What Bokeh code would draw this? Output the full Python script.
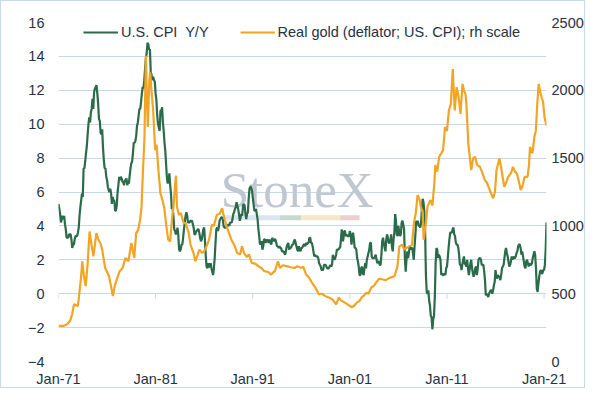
import numpy as np
from bokeh.plotting import figure
from bokeh.models import (Range1d, LinearAxis, FixedTicker, Legend, LegendItem,
                          Label, BoxAnnotation)
from bokeh.embed import file_html
from bokeh.resources import INLINE

# ---------------- data ----------------
start_year = 1971  # monthly CPI data from Jan-71
cpi_yoy = [
    5.3, 5.0, 4.7, 4.2, 4.4, 4.6, 4.4, 4.6, 4.1, 3.8, 3.3, 3.3,        # 1971
    3.3, 3.5, 3.5, 3.5, 3.2, 2.7, 2.9, 2.9, 3.2, 3.4, 3.4, 3.4,        # 1972
    3.6, 3.9, 4.6, 5.1, 5.5, 5.9, 5.7, 7.4, 7.4, 7.8, 8.3, 8.7,        # 1973
    9.4, 10.0, 10.4, 10.1, 10.7, 10.9, 11.5, 10.9, 11.9, 12.1, 12.2, 12.3,  # 1974
    11.8, 11.2, 10.3, 10.2, 9.5, 9.4, 9.7, 8.6, 7.9, 7.4, 7.4, 6.9,    # 1975
    6.7, 6.3, 6.1, 6.0, 6.2, 5.9, 5.3, 5.7, 5.5, 5.5, 4.9, 4.9,        # 1976
    5.2, 6.0, 6.4, 6.9, 6.7, 6.9, 6.8, 6.6, 6.6, 6.4, 6.7, 6.7,        # 1977
    6.8, 6.4, 6.6, 6.5, 7.0, 7.4, 7.7, 7.8, 8.3, 8.9, 8.9, 9.0,        # 1978
    9.3, 9.9, 10.1, 10.5, 10.9, 10.9, 11.3, 11.8, 12.2, 12.1, 12.6, 13.3,  # 1979
    13.9, 14.2, 14.8, 14.7, 14.4, 14.4, 13.1, 12.9, 12.6, 12.8, 12.6, 12.5,  # 1980
    11.8, 11.4, 10.5, 10.0, 9.8, 9.6, 10.8, 10.8, 11.0, 10.1, 9.6, 8.9,  # 1981
    8.4, 7.6, 6.8, 6.5, 6.7, 7.1, 6.4, 5.9, 5.0, 5.1, 4.6, 3.8,        # 1982
    3.7, 3.5, 3.6, 3.9, 3.5, 2.6, 2.5, 2.6, 2.9, 2.9, 3.3, 3.8,        # 1983
    4.2, 4.6, 4.8, 4.6, 4.2, 4.2, 4.2, 4.3, 4.3, 4.3, 4.1, 3.9,        # 1984
    3.5, 3.5, 3.7, 3.7, 3.8, 3.8, 3.6, 3.3, 3.1, 3.2, 3.5, 3.8,        # 1985
    3.9, 3.1, 2.2, 1.6, 1.5, 1.8, 1.6, 1.6, 1.8, 1.5, 1.3, 1.1,        # 1986
    1.5, 2.1, 3.0, 3.8, 3.9, 3.7, 3.9, 4.3, 4.4, 4.5, 4.5, 4.4,        # 1987
    4.0, 3.9, 3.9, 3.9, 3.9, 4.0, 4.1, 4.0, 4.2, 4.2, 4.2, 4.4,        # 1988
    4.7, 4.8, 5.0, 5.1, 5.4, 5.2, 5.0, 4.7, 4.3, 4.5, 4.7, 4.6,        # 1989
    5.2, 5.3, 5.2, 4.7, 4.4, 4.7, 4.8, 5.6, 6.2, 6.3, 6.3, 6.1,        # 1990
    5.7, 5.3, 4.9, 4.9, 5.0, 4.7, 4.4, 3.8, 3.4, 2.9, 3.0, 3.1,        # 1991
    2.6, 2.8, 3.2, 3.2, 3.0, 3.1, 3.2, 3.1, 3.0, 3.2, 3.0, 2.9,        # 1992
    3.3, 3.2, 3.1, 3.2, 3.2, 3.0, 2.8, 2.8, 2.7, 2.8, 2.7, 2.7,        # 1993
    2.5, 2.5, 2.5, 2.4, 2.3, 2.5, 2.8, 2.9, 3.0, 2.6, 2.7, 2.7,        # 1994
    2.8, 2.9, 2.9, 3.1, 3.2, 3.0, 2.8, 2.6, 2.5, 2.8, 2.6, 2.5,        # 1995
    2.7, 2.7, 2.8, 2.9, 2.9, 2.8, 3.0, 2.9, 3.0, 3.0, 3.3, 3.3,        # 1996
    3.0, 3.0, 2.8, 2.5, 2.2, 2.3, 2.2, 2.2, 2.2, 2.1, 1.8, 1.7,        # 1997
    1.6, 1.4, 1.4, 1.4, 1.7, 1.7, 1.7, 1.6, 1.5, 1.5, 1.5, 1.6,        # 1998
    1.7, 1.6, 1.7, 2.3, 2.1, 2.0, 2.1, 2.3, 2.6, 2.6, 2.6, 2.7,        # 1999
    2.7, 3.2, 3.8, 3.1, 3.2, 3.7, 3.7, 3.4, 3.5, 3.4, 3.4, 3.4,        # 2000
    3.7, 3.5, 2.9, 3.3, 3.6, 3.2, 2.7, 2.7, 2.6, 2.1, 1.9, 1.6,        # 2001
    1.1, 1.1, 1.5, 1.6, 1.2, 1.1, 1.5, 1.8, 1.5, 2.0, 2.2, 2.4,        # 2002
    2.6, 3.0, 3.0, 2.2, 2.1, 2.1, 2.1, 2.2, 2.3, 2.0, 1.8, 1.9,        # 2003
    1.9, 1.7, 1.7, 2.3, 3.1, 3.3, 3.0, 2.7, 2.5, 3.2, 3.5, 3.3,        # 2004
    3.0, 3.0, 3.1, 3.5, 2.8, 2.5, 3.2, 3.6, 4.7, 4.3, 3.5, 3.4,        # 2005
    4.0, 3.6, 3.4, 3.5, 4.2, 4.3, 4.1, 3.8, 2.1, 1.3, 2.0, 2.5,        # 2006
    2.1, 2.4, 2.8, 2.6, 2.7, 2.7, 2.4, 2.0, 2.8, 3.5, 4.3, 4.1,        # 2007
    4.3, 4.0, 4.0, 3.9, 4.2, 5.0, 5.6, 5.4, 4.9, 3.7, 1.1, 0.1,        # 2008
    0.0, 0.2, -0.4, -0.7, -1.3, -1.4, -2.1, -1.5, -1.3, -0.2, 1.8, 2.7,  # 2009
    2.6, 2.1, 2.3, 2.2, 2.0, 1.1, 1.2, 1.1, 1.1, 1.2, 1.1, 1.5,        # 2010
    1.6, 2.1, 2.7, 3.2, 3.6, 3.6, 3.6, 3.8, 3.9, 3.5, 3.4, 3.0,        # 2011
    2.9, 2.9, 2.7, 2.3, 1.7, 1.7, 1.4, 1.7, 2.0, 2.2, 1.8, 1.7,        # 2012
    1.6, 2.0, 1.5, 1.1, 1.4, 1.8, 2.0, 1.5, 1.2, 1.0, 1.2, 1.5,        # 2013
    1.6, 1.1, 1.5, 2.0, 2.1, 2.1, 2.0, 1.7, 1.7, 1.7, 1.3, 0.8,        # 2014
    -0.1, 0.0, -0.1, -0.2, 0.0, 0.1, 0.2, 0.2, 0.0, 0.2, 0.5, 0.7,     # 2015
    1.4, 1.0, 0.9, 1.1, 1.0, 1.0, 0.8, 1.1, 1.5, 1.6, 1.7, 2.1,        # 2016
    2.5, 2.7, 2.4, 2.2, 1.9, 1.6, 1.7, 1.9, 2.2, 2.0, 2.2, 2.1,        # 2017
    2.1, 2.2, 2.4, 2.5, 2.8, 2.9, 2.9, 2.7, 2.3, 2.5, 2.2, 1.9,        # 2018
    1.6, 1.5, 1.9, 2.0, 1.8, 1.6, 1.8, 1.7, 1.7, 1.8, 2.1, 2.3,        # 2019
    2.5, 2.3, 1.5, 0.3, 0.1, 0.6, 1.0, 1.3, 1.4, 1.2, 1.2, 1.4,        # 2020
    1.4, 1.7, 2.6, 4.2,                                                # 2021
]

gold_year = [
    1971.0, 1971.5, 1971.9, 1972.2, 1972.4, 1972.6, 1973.0, 1973.3, 1973.45, 1973.6,
    1973.8, 1974.0, 1974.2, 1974.4, 1974.6, 1974.9, 1975.1, 1975.3, 1975.5, 1975.8,
    1976.0, 1976.2, 1976.45, 1976.6, 1976.8, 1977.0, 1977.3, 1977.6, 1977.9, 1978.2,
    1978.5, 1978.8, 1979.0, 1979.2, 1979.4, 1979.55, 1979.7, 1979.85, 1980.0, 1980.1,
    1980.2, 1980.35, 1980.45, 1980.6, 1980.75, 1980.95, 1981.1, 1981.3, 1981.5, 1981.7,
    1981.9, 1982.1, 1982.3, 1982.5, 1982.7, 1982.85, 1983.0, 1983.1, 1983.2, 1983.4,
    1983.6, 1983.9, 1984.1, 1984.4, 1984.6, 1984.9, 1985.1, 1985.3, 1985.5, 1985.8,
    1986.0, 1986.3, 1986.5, 1986.8, 1987.0, 1987.3, 1987.6, 1987.85, 1988.0, 1988.3,
    1988.6, 1988.8, 1989.1, 1989.4, 1989.7, 1989.9, 1990.1, 1990.4, 1990.6, 1990.9,
    1991.3, 1991.6, 1991.9, 1992.2, 1992.6, 1992.9, 1993.3, 1993.6, 1993.8, 1994.1,
    1994.6, 1994.9, 1995.3, 1995.6, 1996.0, 1996.2, 1996.5, 1996.8, 1997.1, 1997.5,
    1997.8, 1998.1, 1998.5, 1998.9, 1999.2, 1999.6, 1999.85, 2000.1, 2000.5, 2000.8,
    2001.2, 2001.5, 2001.7, 2002.0, 2002.2, 2002.5, 2002.7, 2002.9, 2003.2, 2003.5,
    2003.7, 2004.0, 2004.4, 2004.7, 2005.1, 2005.6, 2005.9, 2006.1, 2006.4, 2006.6,
    2006.9, 2007.1, 2007.4, 2007.6, 2007.8, 2007.97, 2008.2, 2008.3, 2008.5, 2008.6,
    2008.8, 2009.0, 2009.3, 2009.5, 2009.7, 2009.8, 2010.0, 2010.2, 2010.6, 2010.8,
    2011.0, 2011.2, 2011.4, 2011.6, 2011.7, 2011.8, 2012.0, 2012.2, 2012.4, 2012.6,
    2012.75, 2012.9, 2013.0, 2013.2, 2013.5, 2013.7, 2013.9, 2014.1, 2014.4, 2014.6,
    2014.9, 2015.1, 2015.4, 2015.75, 2015.95, 2016.1, 2016.4, 2016.6, 2016.9, 2017.1,
    2017.3, 2017.6, 2017.8, 2018.0, 2018.2, 2018.4, 2018.6, 2018.8, 2019.0, 2019.3,
    2019.45, 2019.55, 2019.8, 2020.0, 2020.15, 2020.3, 2020.45, 2020.6, 2020.75, 2020.9,
    2021.05, 2021.25,
]
gold_real = [
    262, 262, 275, 300, 348, 422, 409, 605, 739, 640,
    556, 720, 959, 860, 776, 947, 900, 874, 825, 690,
    660, 629, 540, 482, 560, 605, 666, 690, 764, 739,
    874, 764, 947, 971, 1045, 1142, 1411, 1650, 2254, 1950,
    1729, 2071, 2132, 1973, 1851, 1558, 1600, 1400, 1240, 1191,
    1130, 1000, 898, 886, 1057, 1150, 1300, 1370, 1142, 1081,
    1094, 1020, 1020, 950, 861, 800, 739, 780, 825, 800,
    812, 860, 898, 1008, 1000, 1081, 1090, 1130, 1080, 996,
    940, 898, 860, 800, 790, 849, 800, 770, 790, 727,
    720, 702, 690, 666, 660, 641, 670, 739, 690, 710,
    702, 695, 690, 702, 690, 700, 641, 620, 581, 540,
    495, 500, 482, 470, 458, 422, 471, 450, 434, 420,
    400, 415, 434, 446, 471, 490, 507, 500, 544, 560,
    581, 610, 605, 600, 617, 629, 700, 849, 861, 825,
    840, 849, 860, 1020, 1100, 1228, 1190, 1142, 1100, 898,
    1000, 1142, 1191, 1150, 1314, 1448, 1400, 1509, 1558, 1729,
    1700, 1851, 1900, 2157, 2000, 1851, 2022, 1950, 1827, 2047,
    2000, 1973, 1900, 1607, 1411, 1500, 1509, 1450, 1435, 1400,
    1338, 1320, 1265, 1204, 1250, 1411, 1497, 1420, 1289, 1320,
    1362, 1390, 1435, 1400, 1387, 1330, 1265, 1300, 1362, 1362,
    1450, 1582, 1534, 1655, 1700, 1900, 2047, 1990, 1949, 1912,
    1800, 1741,
]

x_ticks = [1971, 1981, 1991, 2001, 2011, 2021]
x_tick_labels = ["Jan-71", "Jan-81", "Jan-91", "Jan-01", "Jan-11", "Jan-21"]
left_ticks = [-4, -2, 0, 2, 4, 6, 8, 10, 12, 14, 16]
right_ticks = [0, 500, 1000, 1500, 2000, 2500]

cpi_label = "U.S. CPI  Y/Y"
gold_label = "Real gold (deflator; US. CPI); rh scale"

# ---------------- styling ----------------
GREEN = "#2A6C49"
ORANGE = "#F2A424"
TEXT = "#243243"
GRID = "#C9D8E7"
FONT = "Liberation Sans"
FSIZE = "14.5px"

cpi_x = start_year + np.arange(len(cpi_yoy)) / 12.0

p = figure(width=585, height=388,
           x_range=Range1d(1971.0, 2021.25), y_range=Range1d(-4, 16),
           output_backend="svg", toolbar_location=None,
           min_border_left=57, min_border_right=37,
           min_border_top=21, min_border_bottom=26,
           background_fill_color="white", border_fill_color="white")
p.outline_line_color = None
p.styles = {"border": "1px solid #C6DAEA", "box-sizing": "border-box"}

p.extra_y_ranges = {"gold": Range1d(0, 2500)}

# grid
p.xgrid.visible = False
p.ygrid.ticker = FixedTicker(ticks=left_ticks)
p.ygrid.grid_line_color = GRID
p.ygrid.grid_line_width = 1

# axes
def style_axis(ax):
    ax.axis_line_color = None
    ax.major_tick_line_color = None
    ax.minor_tick_line_color = None
    ax.major_tick_out = 0
    ax.major_tick_in = 0
    ax.minor_tick_out = 0
    ax.minor_tick_in = 0
    ax.major_label_text_font = FONT
    ax.major_label_text_font_size = FSIZE
    ax.major_label_text_color = TEXT

xa = p.xaxis[0]
xa.ticker = FixedTicker(ticks=x_ticks)
xa.major_label_overrides = {t: l for t, l in zip(x_ticks, x_tick_labels)}
xa.major_label_standoff = 9
style_axis(xa)

ya = p.yaxis[0]
ya.ticker = FixedTicker(ticks=left_ticks)
ya.major_label_standoff = 14
style_axis(ya)

ra = LinearAxis(y_range_name="gold", ticker=FixedTicker(ticks=right_ticks))
ra.major_label_standoff = 5
style_axis(ra)
p.add_layout(ra, "right")

# watermark
wm = Label(x=1987.7, y=6.1, text="StoneX", text_font="Liberation Serif",
           text_font_size="51px", text_color="#BFC8D2", text_baseline="alphabetic",
           text_align="left", level="underlay")
p.add_layout(wm)
bar_edges = [1987.8, 1993.8, 1996.0, 2000.0, 2002.0]
bar_colors = ["#DCE5EE", "#C9D8CE", "#F5E7C8", "#EDCDD0"]
for i, c in enumerate(bar_colors):
    p.add_layout(BoxAnnotation(left=bar_edges[i], right=bar_edges[i + 1],
                               bottom=4.34, top=4.63, fill_color=c, fill_alpha=1,
                               line_color=None, level="underlay"))

# x-axis tick marks on the zero line
p.segment(x0=x_ticks, y0=[0] * len(x_ticks), x1=x_ticks, y1=[-0.3] * len(x_ticks),
          line_color=GRID, line_width=1)

# series
r_cpi = p.line(cpi_x, cpi_yoy, line_color=GREEN, line_width=2.2)
r_gold = p.line(gold_year, gold_real, line_color=ORANGE, line_width=2.2,
                y_range_name="gold")

legend = Legend(items=[LegendItem(label=cpi_label, renderers=[r_cpi]),
                       LegendItem(label=gold_label, renderers=[r_gold])],
                orientation="horizontal", location=(25, 321))
legend.glyph_width = 35
legend.glyph_height = 16
legend.label_height = 16
legend.label_standoff = 3
legend.spacing = 31
legend.padding = 0
legend.margin = 0
legend.border_line_color = None
legend.background_fill_alpha = 0
legend.label_text_font = FONT
legend.label_text_font_size = FSIZE
legend.label_text_color = TEXT
p.add_layout(legend)

open("out.html", "w").write(file_html(p, INLINE))
